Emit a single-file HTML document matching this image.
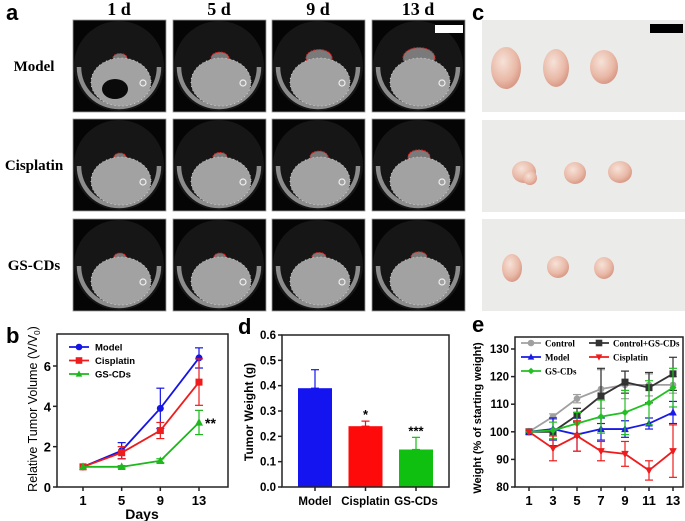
<!DOCTYPE html>
<html><head><meta charset="utf-8"><style>
body{margin:0;background:#fff}
svg{display:block;font-family:"Liberation Sans",Arial,sans-serif}
.tnr{font-family:"Liberation Serif",serif;font-weight:bold}
.b{font-weight:bold}
</style></head><body>
<svg id="fig" width="685" height="521" viewBox="0 0 685 521">
<defs>
<radialGradient id="tum" cx="40%" cy="35%" r="65%"><stop offset="0" stop-color="#f6e2d8"/><stop offset="0.7" stop-color="#e9b8a6"/><stop offset="1" stop-color="#d99a88"/></radialGradient>
</defs>
<g id="panelA"></g>
<g id="panelC"></g>
<g id="panelB"></g>
<g id="panelD"></g>
<g id="panelE"></g>
</svg>
<script>
// ---- Panel b data ----
const bDays=[1,5,9,13];
const bModel=[1,1.8,3.9,6.4];
const bModelErr=[0,0.4,1.0,0.5];
const bCis=[1,1.7,2.8,5.2];
const bCisErr=[0,0.3,0.4,1.15];
const bGS=[1,1.0,1.3,3.2];
const bGSErr=[0,0.06,0.1,0.6];
const bYTicks=[0,2,4,6];
// ---- Panel d data ----
const dCats=["Model","Cisplatin","GS-CDs"];
const dVals=[0.39,0.24,0.148];
const dErr=[0.073,0.02,0.048];
const dStars=["","*","***"];
const dYTicks=["0.0","0.1","0.2","0.3","0.4","0.5","0.6"];
// ---- Panel e data ----
const eDays=[1,3,5,7,9,11,13];
const eControl=[100,105.5,112,115.5,117,117,117];
const eControlErr=[0,1,1.5,7,5,4,3];
const eCtrlGS=[100,100,106,113,118,116,121];
const eCtrlGSErr=[0,5,2.5,10,4,5.5,6];
const eModel=[100,101,99,101,101,103,107];
const eModelErr=[0,4,6,4,3,2,4];
const eCis=[100,94,98.5,93,92,86,93];
const eCisErr=[0,4.5,5.5,3.5,4.5,3.5,9.5];
const eGS=[100,100.5,103,105.5,107,110.5,116];
const eGSErr=[0,3,4,6,8,8,7];
const eYTicks=[80,90,100,110,120,130];

const NS="http://www.w3.org/2000/svg";
function mk(parent,tag,attrs,text){const e=document.createElementNS(NS,tag);for(const k in attrs)e.setAttribute(k,attrs[k]);if(text!==undefined)e.textContent=text;parent.appendChild(e);return e;}

// ---------- Panel A ----------
const A=document.getElementById('panelA');
let t;
t=mk(A,'text',{x:6,y:20,'font-size':22,'font-weight':'bold'},'a');


const colX=[73,173,272,372], rowY=[20,119,219];
const colLab=["1 d","5 d","9 d","13 d"], rowLab=["Model","Cisplatin","GS-CDs"];
const tumorSize=[[7,9,13,16],[6,7,9,11],[6,6,7,8]];
colLab.forEach((s,i)=>{t=mk(A,'text',{x:colX[i]+46,y:15,'font-size':18,'text-anchor':'middle',class:'tnr'},s);

});
rowLab.forEach((s,i)=>{t=mk(A,'text',{x:34,y:rowY[i]+51,'font-size':15,'text-anchor':'middle',class:'tnr'},s);

});
rowY.forEach((y,r)=>colX.forEach((x,c)=>{
  const g=mk(A,'g',{});
  
  
  mk(g,'rect',{x:x,y:y,width:93,height:92,fill:'#050505',stroke:'#999','stroke-width':0.8});
  mk(g,'circle',{cx:x+46,cy:y+46,r:45,fill:'#161616'});
  mk(g,'path',{d:`M${x+6} ${y+47} A40 40 0 0 0 ${x+86} ${y+47}`,fill:'none',stroke:'#8c8c8c','stroke-width':4.5});
  const s=tumorSize[r][c];
  mk(g,'ellipse',{cx:x+47,cy:y+38,rx:s,ry:s*0.65,fill:'#7a7a7a',stroke:'#e02020','stroke-width':1,'stroke-dasharray':'2 1'});
  mk(g,'ellipse',{cx:x+48,cy:y+62,rx:30,ry:24,fill:'#a2a2a2',stroke:'#ddd','stroke-width':0.8,'stroke-dasharray':'1 3'});
  if(r===0&&c===0) mk(g,'ellipse',{cx:x+42,cy:y+69,rx:13,ry:10,fill:'#0a0a0a'});
  mk(g,'circle',{cx:x+70,cy:y+63,r:3,fill:'none',stroke:'#eee','stroke-width':1.2});
}));
mk(A,'rect',{x:435,y:25,width:28,height:8,fill:'#fff'});

// ---------- Panel C ----------
const C=document.getElementById('panelC');
t=mk(C,'text',{x:472,y:20,'font-size':22,'font-weight':'bold'},'c');


const cRowY=[20,120,219];
const tum=[[[506,68,15,21],[556,68,13,19],[604,67,14,17]],[[524,172,12,11],[575,173,11,11],[620,172,12,11]],[[512,268,10,14],[558,267,11,11],[604,268,10,11]]];
cRowY.forEach((y,r)=>{
  const g=mk(C,'g',{});
  
  
  mk(g,'rect',{x:482,y:y,width:203,height:92,fill:'#ebebe9'});
  tum[r].forEach(p=>mk(g,'ellipse',{cx:p[0],cy:p[1],rx:p[2],ry:p[3],fill:'url(#tum)'}));
  if(r===1) mk(g,'ellipse',{cx:530,cy:178,rx:7,ry:7,fill:'url(#tum)'});
});
mk(C,'rect',{x:650,y:24,width:33,height:9,fill:'#000'});

// ---------- generic helpers ----------
function frame(G,x0,x1,y0,y1){mk(G,'rect',{x:x0,y:y0,width:x1-x0,height:y1-y0,fill:'none',stroke:'#222','stroke-width':1.5});}
function errBar(G,x,ya,yb,col){mk(G,'line',{x1:x,x2:x,y1:ya,y2:yb,stroke:col,'stroke-width':1.2});mk(G,'line',{x1:x-4,x2:x+4,y1:ya,y2:ya,stroke:col,'stroke-width':1.2});mk(G,'line',{x1:x-4,x2:x+4,y1:yb,y2:yb,stroke:col,'stroke-width':1.2});}
function marker(G,type,x,y,col,sz){
  let m;
  if(type==='circle') m=mk(G,'circle',{cx:x,cy:y,r:sz,fill:col});
  else if(type==='square') m=mk(G,'rect',{x:x-sz,y:y-sz,width:2*sz,height:2*sz,fill:col});
  else if(type==='tri') m=mk(G,'polygon',{points:`${x},${y-sz*1.1} ${x-sz},${y+sz*0.8} ${x+sz},${y+sz*0.8}`,fill:col});
  else if(type==='tridown') m=mk(G,'polygon',{points:`${x},${y+sz*1.1} ${x-sz},${y-sz*0.8} ${x+sz},${y-sz*0.8}`,fill:col});
  else if(type==='diamond') m=mk(G,'polygon',{points:`${x},${y-sz} ${x-sz},${y} ${x},${y+sz} ${x+sz},${y}`,fill:col});
  return m;
}
function series(G,name,xs,ys,es,X,Y,col,type,sz){
  const g=mk(G,'g',{});
  
  
  xs.forEach((d,i)=>{if(es[i]>0)errBar(g,X(d),Y(ys[i]+es[i]),Y(ys[i]-es[i]),col);});
  mk(g,'polyline',{points:xs.map((d,i)=>X(d)+','+Y(ys[i])).join(' '),fill:'none',stroke:col,'stroke-width':1.8});
  xs.forEach((d,i)=>{const m=marker(g,type,X(d),Y(ys[i]),col,sz);
    
    });
}

// ---------- Panel B ----------
const B=document.getElementById('panelB');
const bX=d=>83+(d-1)*(199-83)/12, bY=v=>487-v*(487-366)/6;
t=mk(B,'text',{x:6,y:343,'font-size':22,'font-weight':'bold'},'b');


frame(B,57,228,334,487);
bYTicks.forEach(v=>{mk(B,'line',{x1:53,x2:57,y1:bY(v),y2:bY(v),stroke:'#222','stroke-width':1.5});
t=mk(B,'text',{x:51,y:bY(v)+5,'font-size':13,'text-anchor':'end',class:'b'},v);

});
bDays.forEach(d=>{mk(B,'line',{x1:bX(d),x2:bX(d),y1:487,y2:491,stroke:'#222','stroke-width':1.5});
t=mk(B,'text',{x:bX(d),y:505,'font-size':13,'text-anchor':'middle',class:'b'},d);

});
t=mk(B,'text',{x:142,y:519,'font-size':14,'text-anchor':'middle',class:'b'},'Days');


t=mk(B,'text',{x:0,y:0,'font-size':12.5,'text-anchor':'middle',transform:'translate(37,409) rotate(-90)'});
t.innerHTML='Relative Tumor Volume (V/V<tspan font-size="8" dy="3">0</tspan><tspan dy="-3">)</tspan>';


series(B,'series-model',bDays,bModel,bModelErr,bX,bY,'#1414e6','circle',3.5);
series(B,'series-cisplatin',bDays,bCis,bCisErr,bX,bY,'#ee1c1c','square',3.5);
series(B,'series-gs-cds',bDays,bGS,bGSErr,bX,bY,'#1cb81c','tri',4);
t=mk(B,'text',{x:205,y:428,'font-size':14,class:'b'},'**');


[['Model','#1414e6','circle'],['Cisplatin','#ee1c1c','square'],['GS-CDs','#1cb81c','tri']].forEach((l,i)=>{
  const g=mk(B,'g',{});
  
  
  const y=347+i*13.5;
  mk(g,'line',{x1:69,x2:89,y1:y,y2:y,stroke:l[1],'stroke-width':1.8});
  marker(g,l[2],79,y,l[1],3.3);
  mk(g,'text',{x:95,y:y+3.5,'font-size':9.5,class:'b'},l[0]);
});

// ---------- Panel D ----------
const D=document.getElementById('panelD');
const dY=v=>487-v*(487-335)/0.6, dX=i=>315+i*50.5;
t=mk(D,'text',{x:238,y:334,'font-size':22,'font-weight':'bold'},'d');


const dCols=['#1414f0','#ff0a0a','#10c010'];
dCats.forEach((c,i)=>{
  const x=dX(i);
  errBar(D,x,dY(dVals[i]+dErr[i]),dY(dVals[i]),dCols[i]);
  const r=mk(D,'rect',{x:x-17,y:dY(dVals[i]),width:34,height:487-dY(dVals[i]),fill:dCols[i]});
  
  
  mk(D,'line',{x1:x,x2:x,y1:487,y2:491,stroke:'#222','stroke-width':1.5});
  t=mk(D,'text',{x:x,y:505,'font-size':11.5,'text-anchor':'middle',class:'b'},c);
  
  
  if(dStars[i]){t=mk(D,'text',{x:x,y:dY(dVals[i]+dErr[i])-2,'font-size':13,'text-anchor':'middle',class:'b'},dStars[i]);
  
  }
});
frame(D,282,449,335,487);
dYTicks.forEach(s=>{const v=parseFloat(s);mk(D,'line',{x1:278,x2:282,y1:dY(v),y2:dY(v),stroke:'#222','stroke-width':1.5});
t=mk(D,'text',{x:276,y:dY(v)+4,'font-size':11.5,'text-anchor':'end',class:'b'},s);

});
t=mk(D,'text',{x:0,y:0,'font-size':12,'text-anchor':'middle',class:'b',transform:'translate(253,412) rotate(-90)'},'Tumor Weight (g)');



// ---------- Panel E ----------
const E=document.getElementById('panelE');
const eX=d=>529+(d-1)*(673-529)/12, eY=v=>487-(v-80)*(487-349)/50;
t=mk(E,'text',{x:472,y:332,'font-size':22,'font-weight':'bold'},'e');


frame(E,515,683,337,487);
eYTicks.forEach(v=>{mk(E,'line',{x1:511,x2:515,y1:eY(v),y2:eY(v),stroke:'#222','stroke-width':1.5});
t=mk(E,'text',{x:509,y:eY(v)+4,'font-size':11.5,'text-anchor':'end',class:'b'},v);

});
eDays.forEach(d=>{mk(E,'line',{x1:eX(d),x2:eX(d),y1:487,y2:491,stroke:'#222','stroke-width':1.5});
t=mk(E,'text',{x:eX(d),y:505,'font-size':13,'text-anchor':'middle',class:'b'},d);

});
t=mk(E,'text',{x:0,y:0,'font-size':11,'text-anchor':'middle',class:'b',transform:'translate(481,418) rotate(-90)'},'Weight (% of starting weight)');


series(E,'series-control',eDays,eControl,eControlErr,eX,eY,'#a0a0a0','circle',3.3);
series(E,'series-control-gs-cds',eDays,eCtrlGS,eCtrlGSErr,eX,eY,'#333','square',3.5);
series(E,'series-model',eDays,eModel,eModelErr,eX,eY,'#1a1ae6','tri',3.8);
series(E,'series-gs-cds',eDays,eGS,eGSErr,eX,eY,'#22c022','diamond',3.5);
series(E,'series-cisplatin',eDays,eCis,eCisErr,eX,eY,'#ee1c1c','tridown',3.8);
[['Control','#a0a0a0','circle',521,343],['Control+GS-CDs','#333','square',589,343],['Model','#1a1ae6','tri',521,357],['Cisplatin','#ee1c1c','tridown',589,357],['GS-CDs','#22c022','diamond',521,371]].forEach(l=>{
  const g=mk(E,'g',{});
  
  
  mk(g,'line',{x1:l[3],x2:l[3]+20,y1:l[4],y2:l[4],stroke:l[1],'stroke-width':1.8});
  marker(g,l[2],l[3]+10,l[4],l[1],3.3);
  mk(g,'text',{x:l[3]+24,y:l[4]+3.5,'font-size':9,class:'tnr'},l[0]);
});
</script>
</body></html>
